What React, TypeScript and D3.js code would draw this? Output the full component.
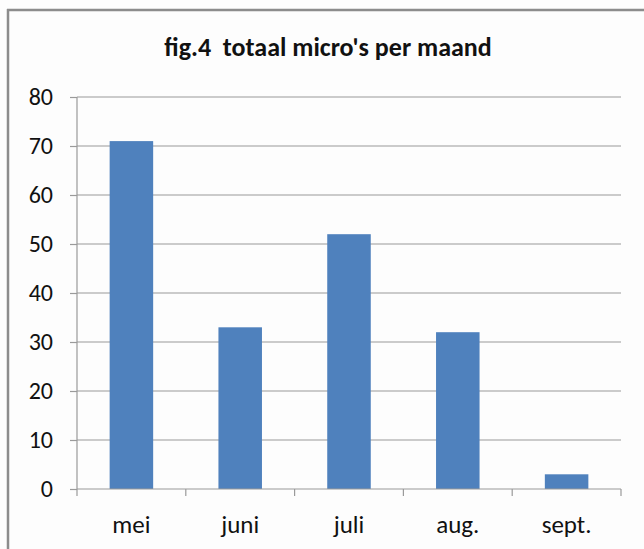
import React, { useRef, useEffect } from "react";
import * as d3 from "d3";

const months = ["mei", "juni", "juli", "aug.", "sept."];
const counts = [71, 33, 52, 32, 3];
const yTicks = [0, 10, 20, 30, 40, 50, 60, 70, 80];
const title = "fig.4  totaal micro's per maand";

export default function App() {
  const svgRef = useRef<SVGSVGElement>(null);

  useEffect(() => {
    const W = 644, H = 549;
    const left = 77, right = 621, top = 97, bottom = 489;
    const font = "Carlito, 'Liberation Sans Narrow', 'Noto Sans', sans-serif";

    const svg = d3.select(svgRef.current).attr("width", W).attr("height", H);
    svg.selectAll("*").remove();

    svg.append("rect").attr("width", W).attr("height", H).attr("fill", "#fdfdfd");

    // outer frame (top + left edge only visible)
    svg.append("line").attr("x1", 7).attr("x2", W).attr("y1", 10).attr("y2", 10)
      .attr("stroke", "#8c8c8c").attr("stroke-width", 2.5);
    svg.append("line").attr("x1", 8).attr("x2", 8).attr("y1", 9).attr("y2", H)
      .attr("stroke", "#8c8c8c").attr("stroke-width", 2.5);

    svg.append("text")
      .attr("x", 328).attr("y", 56)
      .attr("text-anchor", "middle")
      .attr("font-family", font).attr("font-weight", "bold").attr("font-size", 26)
      .attr("fill", "#111")
      .attr("xml:space", "preserve")
      .style("white-space", "pre")
      .text(title);

    const x = d3.scaleBand().domain(months).range([left, right]).paddingInner(0).paddingOuter(0);
    const y = d3.scaleLinear().domain([0, 80]).range([bottom, top]);

    // gridlines
    svg.append("g").selectAll("line").data(yTicks.filter(t => t > 0)).join("line")
      .attr("x1", left).attr("x2", right)
      .attr("y1", d => y(d)).attr("y2", d => y(d))
      .attr("stroke", "#9a9a9a").attr("stroke-width", 1.2);

    // bars
    const bw = x.bandwidth() * 0.4;
    svg.append("g").selectAll("rect").data(months).join("rect")
      .attr("x", d => (x(d) as number) + (x.bandwidth() - bw) / 2)
      .attr("width", bw)
      .attr("y", (_, i) => y(counts[i]))
      .attr("height", (_, i) => bottom - y(counts[i]))
      .attr("fill", "#4f81bd");

    // y axis
    const yAxis = svg.append("g").attr("transform", `translate(${left},0)`)
      .call(d3.axisLeft(y).tickValues(yTicks).tickSize(7).tickPadding(17).tickFormat(d3.format("d")));
    yAxis.select(".domain").attr("stroke", "#9a9a9a").attr("stroke-width", 1.2).attr("d", `M0,${top}V${bottom}`);
    yAxis.selectAll(".tick line").attr("stroke", "#9a9a9a").attr("stroke-width", 1.2);
    yAxis.selectAll(".tick text").attr("font-family", font).attr("font-size", 24).attr("fill", "#111");

    // x axis
    const xAxis = svg.append("g").attr("transform", `translate(0,${bottom})`)
      .call(d3.axisBottom(x).tickSize(0).tickPadding(26));
    xAxis.select(".domain").attr("stroke", "#9a9a9a").attr("stroke-width", 1.2).attr("d", `M${left},0H${right}`);
    xAxis.selectAll(".tick text").attr("font-family", font).attr("font-size", 25).attr("fill", "#111");
    const bounds = months.map(m => x(m) as number).concat([right]);
    xAxis.append("g").selectAll("line").data(bounds).join("line")
      .attr("x1", d => d).attr("x2", d => d).attr("y1", 0).attr("y2", 7)
      .attr("stroke", "#9a9a9a").attr("stroke-width", 1.2);
  }, []);

  return (
    <svg ref={svgRef} style={{ position: "absolute", left: 0, top: 0, display: "block" }} />
  );
}
